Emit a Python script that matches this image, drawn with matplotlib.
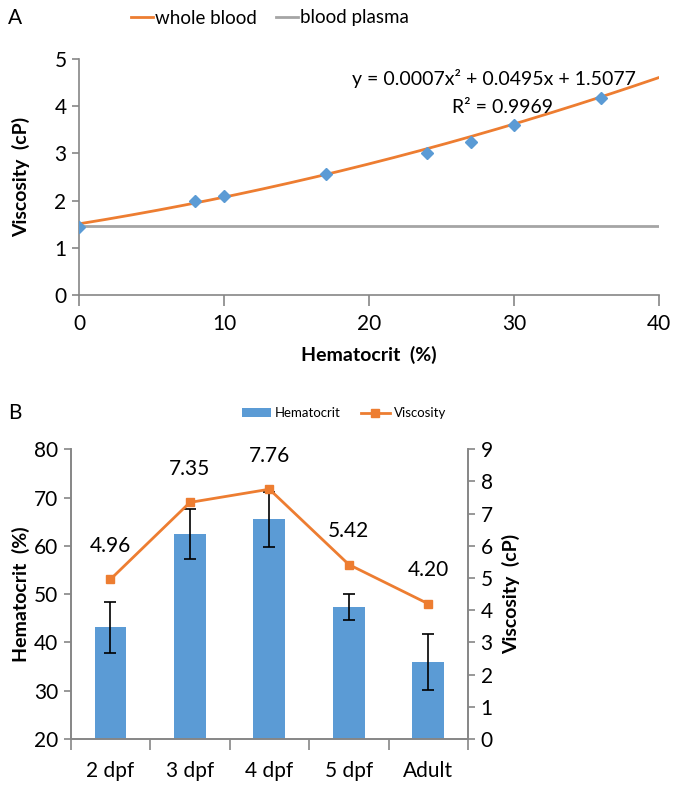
import matplotlib.pyplot as plt
import numpy as np

plt.rcParams['font.family'] = ['Lato', 'DejaVu Sans']

ORANGE = '#ED7D31'
BLUE = '#5B9BD5'
GRAY = '#A5A5A5'
AXC = '#868686'

# panel A data
hct = [0, 8, 10, 17, 24, 27, 30, 36]
visc = [1.45, 2.0, 2.09, 2.57, 3.01, 3.25, 3.61, 4.17]
plasma_x = [0, 40]
plasma_y = [1.47, 1.47]
fit_coef = [0.0007, 0.0495, 1.5077]  # trendline as printed on the chart

# panel B data
stages = ['2 dpf', '3 dpf', '4 dpf', '5 dpf', 'Adult']
hct_mean = [43.1, 62.5, 65.5, 47.3, 36.0]
hct_err = [5.3, 5.2, 5.7, 2.7, 5.8]
visc_stage = [4.96, 7.35, 7.76, 5.42, 4.20]

W, H = 675, 785
fig = plt.figure(figsize=(W / 100, H / 100), dpi=100)


def style(ax, sides):
    for s in ['top', 'right', 'left', 'bottom']:
        ax.spines[s].set_visible(s in sides)
        ax.spines[s].set_color(AXC)
        ax.spines[s].set_linewidth(1.2)
    ax.tick_params(colors=AXC, labelcolor='black', labelsize=15, width=1.2)


# ---- A ----
ax1 = fig.add_axes([79 / W, 1 - 295 / H, 580 / W, 236 / H])
style(ax1, ['left', 'bottom'])
xf = np.linspace(0, 40, 200)
fit_line, = ax1.plot(xf, np.polyval(fit_coef, xf), color=ORANGE, lw=2, zorder=3)
pl_line, = ax1.plot(plasma_x, plasma_y, color=GRAY, lw=2, zorder=2)
ax1.plot(hct, visc, ls='none', marker='D', ms=6, color=BLUE, zorder=4)
ax1.set_xlim(0, 40)
ax1.set_ylim(0, 5)
ax1.set_xticks([0, 10, 20, 30, 40])
ax1.set_yticks(range(6))
ax1.tick_params(axis='x', length=8, pad=6)
ax1.tick_params(axis='y', length=5, pad=4)
ax1.set_xlabel('Hematocrit  (%)', fontsize=14, fontweight='bold', labelpad=8)
ax1.set_ylabel('Viscosity  (cP)', fontsize=14, fontweight='bold')
ax1.yaxis.set_label_coords(-0.0845, 0.5)
ax1.text(0.715, 0.917, 'y = 0.0007x² + 0.0495x + 1.5077', transform=ax1.transAxes,
         ha='center', va='center', fontsize=14)
ax1.text(0.73, 0.795, 'R² = 0.9969', transform=ax1.transAxes,
         ha='center', va='center', fontsize=14)
fig.legend([fit_line, pl_line], ['whole blood', 'blood plasma'], loc='center',
           bbox_to_anchor=(0.40, 1 - 18 / H), ncol=2, frameon=False, fontsize=13.5,
           handlelength=1.2, handletextpad=0.1, columnspacing=1.0)
fig.text(8 / W, 1 - 18 / H, 'A', fontsize=15, va='center', ha='left')

# ---- B ----
ax2 = fig.add_axes([70.7 / W, 1 - 739 / H, 397.3 / W, 289.7 / H])
style(ax2, ['left', 'bottom', 'right'])
x = np.arange(len(stages))
bars = ax2.bar(x, hct_mean, width=0.4, color=BLUE, zorder=2)
ax2.errorbar(x, hct_mean, yerr=hct_err, fmt='none', ecolor='black', elinewidth=1.2,
             capsize=4, capthick=1.2, zorder=3)
ax2.set_xlim(-0.5, len(stages) - 0.5)
ax2.set_ylim(20, 80)
ax2.set_yticks(range(20, 81, 10))
ax2.set_xticks(x)
ax2.set_xticklabels(stages)
ax2.set_xticks(np.arange(-0.5, len(stages), 1), minor=True)
ax2.tick_params(axis='x', which='major', length=0, pad=16)
ax2.tick_params(axis='x', which='minor', length=8, colors=AXC, width=1.2)
ax2.tick_params(axis='y', length=5, pad=4)
ax2.set_ylabel('Hematocrit  (%)', fontsize=14, fontweight='bold')
ax2.yaxis.set_label_coords(-0.1024, 0.5)

ax3 = ax2.twinx()
style(ax3, ['left', 'bottom', 'right'])
vline, = ax3.plot(x, visc_stage, color=ORANGE, lw=2, marker='s', ms=6, zorder=4)
ax3.set_ylim(0, 9)
ax3.set_yticks(range(10))
ax3.tick_params(axis='y', length=5, pad=4)
ax3.set_ylabel('Viscosity  (cP)', fontsize=14, fontweight='bold')
ax3.yaxis.set_label_coords(1.0856, 0.5)
for xi, v in zip(x, visc_stage):
    ax3.annotate(f'{v:.2f}', (xi, v), xytext=(0, 24), textcoords='offset points',
                 ha='center', va='center', fontsize=15)
fig.legend([bars, vline], ['Hematocrit', 'Viscosity'], loc='center',
           bbox_to_anchor=(0.51, 1 - 413 / H), ncol=2, frameon=False, fontsize=9.5,
           handlelength=2.2, handleheight=0.6, handletextpad=0.3, columnspacing=1.5)
fig.text(8 / W, 1 - 413 / H, 'B', fontsize=15, va='center', ha='left')

fig.savefig('out.png', dpi=100)
